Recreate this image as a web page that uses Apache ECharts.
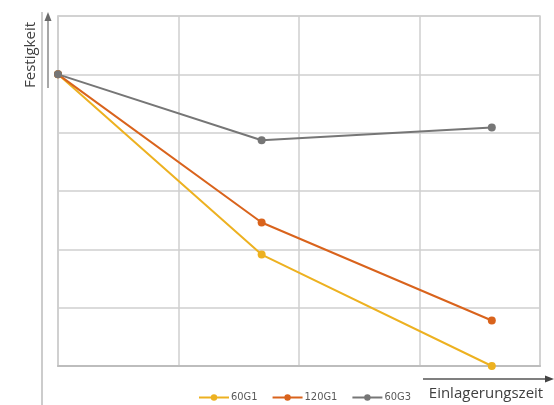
<!DOCTYPE html>
<html>
<head>
<meta charset="utf-8">
<script src="https://cdn.jsdelivr.net/npm/echarts@6/dist/echarts.min.js"></script>
<style>html,body{margin:0;padding:0;background:#fff;}#c{width:554px;height:405px;}</style>
</head>
<body>
<div id="c"></div>
<script>
// Data (relative units)
const times = [0, 1.69, 3.6];
const seriesNames = ['60G1', '120G1', '60G3'];
const v60G1 = [5.0, 1.91, 0.0];
const v120G1 = [5.0, 2.46, 0.78];
const v60G3 = [5.0, 3.87, 4.09];
const yAxisTitle = 'Festigkeit';
const xAxisTitle = 'Einlagerungszeit';

const colors = ['#EDB120', '#D9631C', '#767676'];
const pairs = (vals) => times.map((t, i) => [t, vals[i]]);
const mk = (name, vals, color) => ({
  name, type: 'line', data: pairs(vals), clip: false,
  symbol: 'circle', symbolSize: 8,
  lineStyle: { color, width: 2 },
  itemStyle: { color },
  emphasis: { disabled: true }
});

const chart = echarts.init(document.getElementById('c'), null, { renderer: 'canvas' });
chart.setOption({
  animation: false,
  backgroundColor: '#fff',
  color: colors,
  grid: { left: 58, right: 14, top: 16, bottom: 39, show: true, borderColor: '#cfcfcf', borderWidth: 1.5 },
  xAxis: {
    type: 'value', min: 0, max: 4, interval: 1,
    axisLine: { show: true, lineStyle: { color: '#bdbdbd', width: 2 } },
    axisTick: { show: false }, axisLabel: { show: false },
    splitLine: { show: true, lineStyle: { color: '#cfcfcf', width: 1.5 } }
  },
  yAxis: {
    type: 'value', min: 0, max: 6, interval: 1,
    axisLine: { show: true, lineStyle: { color: '#cfcfcf', width: 1.5 } },
    axisTick: { show: false }, axisLabel: { show: false },
    splitLine: { show: true, lineStyle: { color: '#cfcfcf', width: 1.5 } }
  },
  legend: {
    left: 193, top: 387, itemWidth: 30, itemHeight: 8, itemGap: 14,
    data: seriesNames,
    textStyle: { fontSize: 11, color: '#595959', fontFamily: 'DejaVu Sans Condensed', padding: [0, 0, 0, -3] }
  },
  series: [
    mk(seriesNames[0], v60G1, colors[0]),
    mk(seriesNames[1], v120G1, colors[1]),
    mk(seriesNames[2], v60G3, colors[2])
  ],
  graphic: [
    { type: 'line', shape: { x1: 42, y1: 12, x2: 42, y2: 405 }, style: { stroke: '#cccccc', lineWidth: 2 } },
    { type: 'line', shape: { x1: 48, y1: 20, x2: 48, y2: 88 }, style: { stroke: '#8a8a8a', lineWidth: 1.5 } },
    { type: 'polygon', shape: { points: [[48, 12], [44.5, 21], [51.5, 21]] }, style: { fill: '#6a6a6a' } },
    { type: 'text', x: 31, y: 55, rotation: Math.PI / 2,
      style: { text: yAxisTitle, fontSize: 15, fontFamily: 'Open Sans', fill: '#404040', align: 'center', verticalAlign: 'middle' } },
    { type: 'line', shape: { x1: 423, y1: 379, x2: 545, y2: 379 }, style: { stroke: '#555555', lineWidth: 1.5 } },
    { type: 'polygon', shape: { points: [[554, 379], [545, 375.5], [545, 382.5]] }, style: { fill: '#444444' } },
    { type: 'text', x: 486, y: 394,
      style: { text: xAxisTitle, fontSize: 15, fontFamily: 'Open Sans', fill: '#404040', align: 'center', verticalAlign: 'middle' } }
  ]
});
</script>
</body>
</html>
